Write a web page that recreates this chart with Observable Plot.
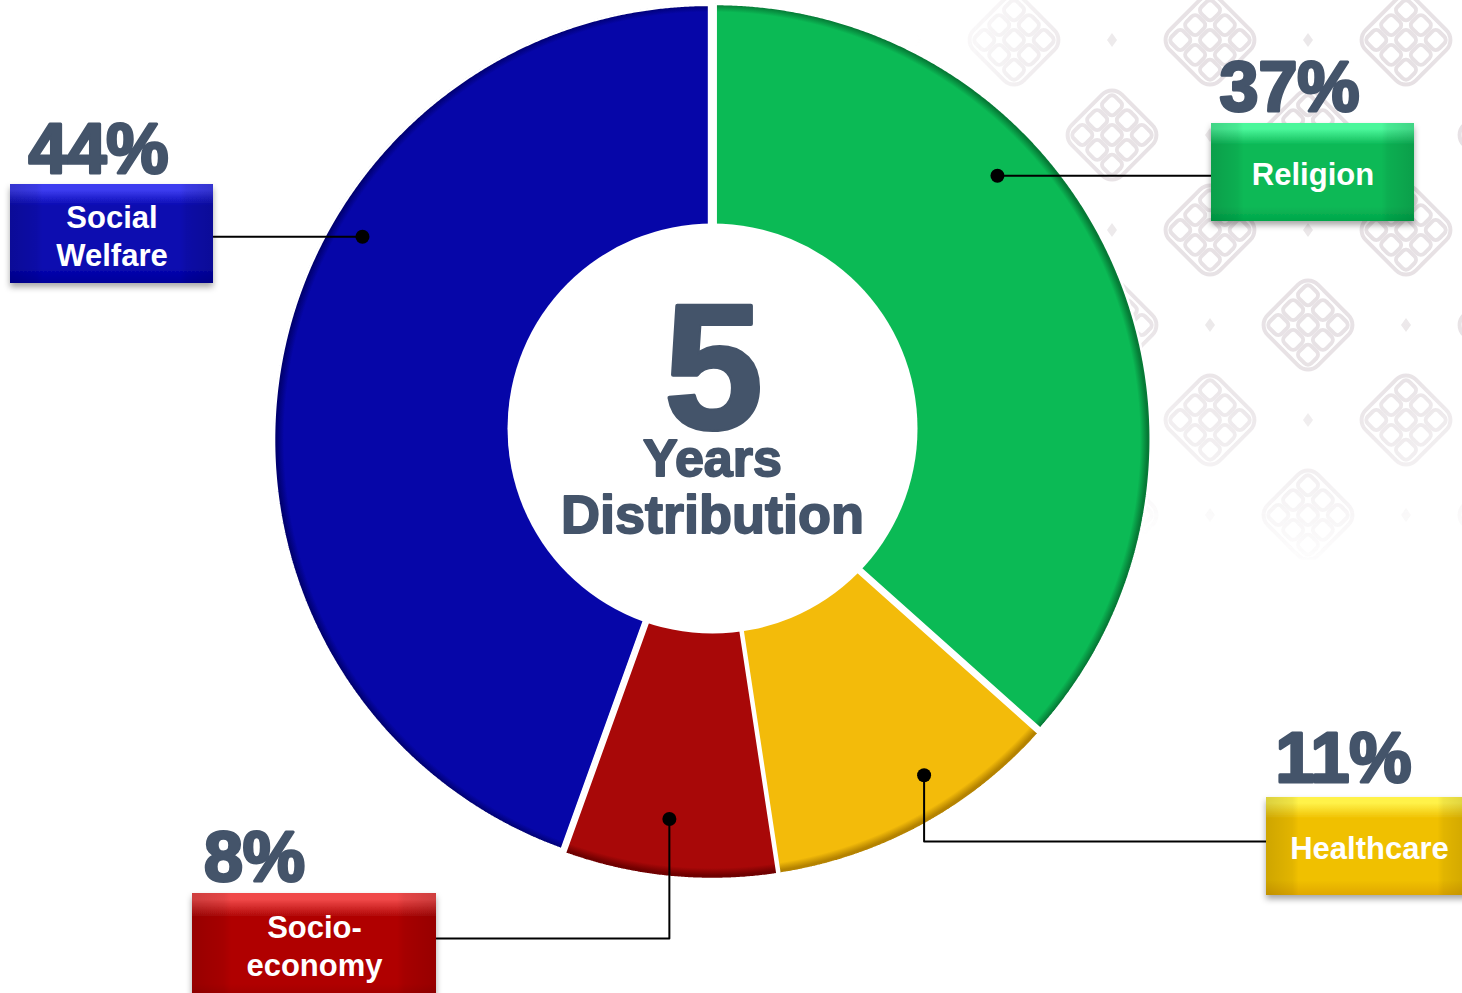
<!DOCTYPE html>
<html>
<head>
<meta charset="utf-8">
<script src="https://cdn.jsdelivr.net/npm/d3@7"></script>
<script src="https://cdn.jsdelivr.net/npm/@observablehq/plot@0.6"></script>
<style>
  html, body { margin: 0; padding: 0; background: #ffffff; overflow: hidden; }
  #chart svg { display: block; font-family: "Liberation Sans", Arial, sans-serif; }
</style>
</head>
<body>
<div id="chart"></div>
<script>
// ---------------- DATA ----------------
const categories = ["Religion", "Healthcare", "Socio-economy", "Social Welfare"];
const boxLabels = ["Religion", "Healthcare", "Socio-\neconomy", "Social\nWelfare"];
// slice shares (labels show the rounded figures)
const shares = [36.6, 11.0, 7.9, 44.5];
const pctLabels = ["37%", "11%", "8%", "44%"];
const centerBig = "5";
const centerLines = ["Years", "Distribution"];

// ---------------- STYLE / LAYOUT ----------------
const W = 1462, H = 993;
const ink = "#44546a";
const donut = { cx: 712, cy: 440, R: 435, rSlice: 120, explode: 3.5, hole: { cx: 712, cy: 428, r: 205 } };
const palette = {
  "Religion":       { base: "#0bba55", dark: "#067a36", boxTop: "#4cf79b", boxMid: "#0cb957", boxBot: "#02a64a" },
  "Healthcare":     { base: "#f3bb0a", dark: "#b58300", boxTop: "#fff24a", boxMid: "#f0c000", boxBot: "#e0a800" },
  "Socio-economy":  { base: "#a80808", dark: "#700000", boxTop: "#f04848", boxMid: "#b00606", boxBot: "#9a0000" },
  "Social Welfare": { base: "#0606a8", dark: "#000070", boxTop: "#3c3cf0", boxMid: "#0808b0", boxBot: "#00009a" }
};
// Annotation layout (label boxes, leader anchors, percentage positions)
const annot = {
  "Religion":       { box: [1211, 123, 1414, 221], anchorAngle: 47.1, anchorR: 389, route: "h",  elbowY: null, pct: [1289, 110], lh: 1.2 },
  "Healthcare":     { box: [1266, 797, 1470, 895], anchorAngle: 147.7, anchorR: 396, route: "vh", elbowY: 841, pct: [1343, 781], lh: 1.2, textX: 1369 },
  "Socio-economy":  { box: [192, 893, 436, 1000], anchorAngle: 186.5, anchorR: 381, route: "vh", elbowY: 938, pct: [254, 880], lh: 1.25, textX: 314, textY: 944 },
  "Social Welfare": { box: [10, 184, 213, 283], anchorAngle: 300.2, anchorR: 405, route: "h",  elbowY: null, pct: [98, 172], lh: 1.22 }
};

// ---------------- GEOMETRY FROM DATA ----------------
const arcs = d3.pie().sort(null).value(d => d)(shares);
const rad = deg => deg * Math.PI / 180;

// annular sector as an area band between the inner and the outer arc
function sliceBand(a) {
  const mid = (a.startAngle + a.endAngle) / 2;
  const ox = donut.explode * Math.sin(mid), oy = -donut.explode * Math.cos(mid);
  const n = Math.max(10, Math.ceil((a.endAngle - a.startAngle) / 0.004));
  const pts = [];
  for (let k = 0; k <= n; k++) {
    const t = a.startAngle + (a.endAngle - a.startAngle) * k / n;
    pts.push({
      xi: donut.cx + ox + donut.rSlice * Math.sin(t), yi: donut.cy + oy - donut.rSlice * Math.cos(t),
      xo: donut.cx + ox + donut.R * Math.sin(t),      yo: donut.cy + oy - donut.R * Math.cos(t)
    });
  }
  return pts;
}
function sliceOutline(a) {
  const band = sliceBand(a);
  return [...band.map(p => ({ x: p.xo, y: p.yo })), ...band.slice().reverse().map(p => ({ x: p.xi, y: p.yi }))];
}

const slug = s => s.replace(/[^a-z]/gi, "").toLowerCase();

const marks = [];

// background pattern panel
marks.push(Plot.rect([{ x1: 880, x2: W, y1: 0, y2: 560 }], {
  x1: "x1", x2: "x2", y1: "y1", y2: "y2", fill: "url(#knotPattern)"
}));

// slices
arcs.forEach((a, i) => {
  const cat = categories[i];
  marks.push(Plot.area(sliceBand(a), {
    x1: "xi", y1: "yi", x2: "xo", y2: "yo", curve: "linear",
    fill: `url(#slice-${slug(cat)})`, stroke: "none"
  }));
  marks.push(Plot.line(sliceOutline(a), {
    x: "x", y: "y", curve: "linear-closed", stroke: "white", strokeWidth: 2.5, strokeLinejoin: "miter"
  }));
});

// center hole
marks.push(Plot.dot([donut.hole], { x: "cx", y: "cy", r: donut.hole.r, fill: "white", stroke: "none" }));

// center title
marks.push(Plot.text([centerBig], {
  x: () => donut.hole.cx + 1, y: () => 427, text: d => d, fontSize: 178, fontWeight: "bold",
  fill: ink, stroke: ink, strokeWidth: 4, strokeLinejoin: "round", lineAnchor: "bottom", textAnchor: "middle",
  fontFamily: "Liberation Sans"
}));
marks.push(Plot.text(centerLines, {
  x: () => donut.hole.cx, y: (d, i) => 475 + i * 57, text: d => d, fontSize: (d, i) => i === 0 ? 52 : 54, fontWeight: "bold",
  fill: ink, stroke: ink, strokeWidth: 1.8, strokeLinejoin: "round", lineAnchor: "bottom", textAnchor: "middle",
  fontFamily: "Liberation Sans"
}));

// leaders, boxes, labels
categories.forEach((cat, i) => {
  const L = annot[cat];
  const ax = donut.cx + L.anchorR * Math.sin(rad(L.anchorAngle));
  const ay = donut.cy - L.anchorR * Math.cos(rad(L.anchorAngle));
  const [bx1, by1, bx2, by2] = L.box;
  const boxMidY = (by1 + by2) / 2;
  const edgeX = ax < bx1 ? bx1 : bx2;
  const pts = L.route === "h"
    ? [{ x: ax, y: ay }, { x: edgeX, y: ay }]
    : [{ x: ax, y: ay }, { x: ax, y: L.elbowY }, { x: edgeX, y: L.elbowY }];
  marks.push(Plot.line(pts, { x: "x", y: "y", stroke: "#000", strokeWidth: 2, curve: "linear" }));
  marks.push(Plot.dot([{ x: ax, y: ay }], { x: "x", y: "y", r: 7, fill: "#000", stroke: "none" }));

  // box
  marks.push(Plot.rect([L.box], {
    x1: d => d[0], y1: d => d[1], x2: d => d[2], y2: d => d[3],
    fill: `url(#box-${slug(cat)})`
  }));
  marks.push(Plot.rect([L.box], {
    x1: d => d[0], y1: d => d[1], x2: d => d[2], y2: d => d[3],
    fill: "url(#sideShade)"
  }));
  marks.push(Plot.text([boxLabels[i]], {
    x: () => L.textX ?? (bx1 + bx2) / 2, y: () => L.textY ?? (boxMidY + 1), text: d => d,
    fontSize: 31, fontWeight: "bold", fill: "white", lineHeight: L.lh, textAnchor: "middle",
    lineAnchor: "middle", fontFamily: "Liberation Sans"
  }));

  // percentage
  marks.push(Plot.text([pctLabels[i]], {
    x: () => L.pct[0], y: () => L.pct[1], text: d => d, fontSize: 70, fontWeight: "bold",
    fill: ink, stroke: ink, strokeWidth: 3, strokeLinejoin: "round",
    textAnchor: "middle", lineAnchor: "bottom", fontFamily: "Liberation Sans"
  }));
});

const chart = Plot.plot({
  width: W, height: H, margin: 0,
  x: { domain: [0, W], range: [0, W], axis: null },
  y: { domain: [0, H], range: [0, H], axis: null },
  style: { background: "white", overflow: "hidden" },
  marks
});

// ---------------- SVG DEFS (gradients, shadow, pattern) ----------------
const svg = d3.select(chart.tagName.toLowerCase() === "svg" ? chart : chart.querySelector("svg"));
const defs = svg.insert("defs", ":first-child");

categories.forEach(cat => {
  const p = palette[cat];
  const rg = defs.append("radialGradient").attr("id", `slice-${slug(cat)}`)
    .attr("gradientUnits", "userSpaceOnUse")
    .attr("cx", donut.cx).attr("cy", donut.cy).attr("r", donut.R + 4);
  [[0, p.base], [0.975, p.base], [0.992, p.dark], [1, p.dark]]
    .forEach(([o, c]) => rg.append("stop").attr("offset", o).attr("stop-color", c));

  const lg = defs.append("linearGradient").attr("id", `box-${slug(cat)}`)
    .attr("x1", 0).attr("y1", 0).attr("x2", 0).attr("y2", 1);
  [[0, p.boxTop], [0.06, p.boxTop], [0.22, p.boxMid], [0.85, p.boxMid], [1, p.boxBot]]
    .forEach(([o, c]) => lg.append("stop").attr("offset", o).attr("stop-color", c));
});

const ss = defs.append("linearGradient").attr("id", "sideShade").attr("x1", 0).attr("x2", 1).attr("y1", 0).attr("y2", 0);
[[0, "rgba(0,0,0,0.14)"], [0.13, "rgba(0,0,0,0.06)"], [0.16, "rgba(0,0,0,0)"], [0.84, "rgba(0,0,0,0)"], [0.87, "rgba(0,0,0,0.06)"], [1, "rgba(0,0,0,0.14)"]]
  .forEach(([o, c]) => ss.append("stop").attr("offset", o).attr("stop-color", c));

const shadow = defs.append("filter").attr("id", "boxShadow").attr("x", "-10%").attr("y", "-10%").attr("width", "130%").attr("height", "140%");
shadow.append("feDropShadow").attr("dx", 0).attr("dy", 4).attr("stdDeviation", 3).attr("flood-color", "#000").attr("flood-opacity", 0.35);

// knot pattern
const pat = defs.append("pattern").attr("id", "knotPattern").attr("patternUnits", "userSpaceOnUse")
  .attr("width", 196).attr("height", 190).attr("x", 1014).attr("y", 40);
function knot(g, x, y) {
  const k = g.append("g").attr("transform", `translate(${x},${y}) rotate(45)`)
    .attr("fill", "none").attr("stroke", "#e0d9dd").attr("stroke-width", 4);
  const s = 17, gap = 4;
  for (let r = -1; r <= 1; r++) for (let c = -1; c <= 1; c++) {
    k.append("rect").attr("x", c * (s + gap) - s / 2).attr("y", r * (s + gap) - s / 2)
      .attr("width", s).attr("height", s).attr("rx", 5);
  }
  k.append("rect").attr("x", -1.5 * (s + gap) - 4).attr("y", -1.5 * (s + gap) - 4)
    .attr("width", 3 * (s + gap) + 8).attr("height", 3 * (s + gap) + 8).attr("rx", 14);
}
[[0, 0], [196, 0], [0, 190], [196, 190], [98, 95]].forEach(([x, y]) => knot(pat, x, y));
[[98, 0], [0, 95], [196, 95], [98, 190]].forEach(([x, y]) =>
  pat.append("path").attr("d", `M${x},${y - 7}L${x + 5},${y}L${x},${y + 7}L${x - 5},${y}Z`).attr("fill", "#e6e2e4"));

const mg = defs.append("radialGradient").attr("id", "fadeGrad").attr("gradientUnits", "userSpaceOnUse")
  .attr("cx", 1330).attr("cy", 150).attr("r", 430);
[[0, "#ffffff"], [0.55, "#dddddd"], [1, "#000000"]].forEach(([o, c]) =>
  mg.append("stop").attr("offset", o).attr("stop-color", c));
const mask = defs.append("mask").attr("id", "fadeMask").attr("maskUnits", "userSpaceOnUse")
  .attr("x", 0).attr("y", 0).attr("width", W).attr("height", H);
mask.append("rect").attr("x", 0).attr("y", 0).attr("width", W).attr("height", H).attr("fill", "url(#fadeGrad)");

svg.selectAll('g[fill="url(#knotPattern)"]').attr("mask", "url(#fadeMask)").attr("opacity", 0.85);
svg.selectAll('g[fill^="url(#box-"]').attr("filter", "url(#boxShadow)");

document.getElementById("chart").appendChild(chart);
</script>
</body>
</html>
